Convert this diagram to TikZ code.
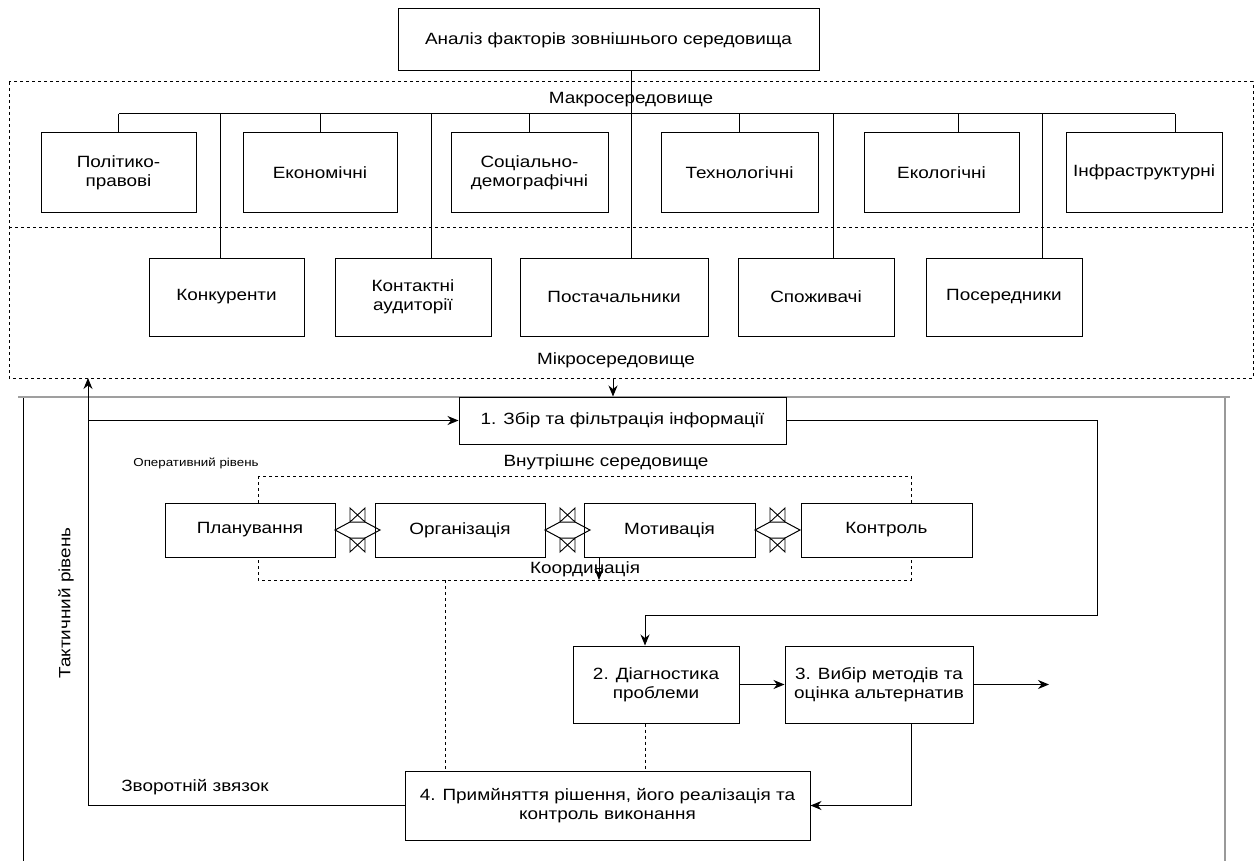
\documentclass[tikz,border=0pt]{standalone}
\usepackage{fontspec}
\setmainfont{Liberation Sans}[FakeStretch=1.16]
\usetikzlibrary{arrows.meta,calc}
\newcommand\myfs{\fontsize{16.3}{19}\selectfont}
\newcommand\mysm{\fontsize{11.5}{13}\selectfont}
\newcommand\bx[6]{\node[box,minimum width={(#4-#2)*1pt},minimum height={(#5-#3)*1pt}] (#1) at ({(#2+#4)/2},{(#3+#5)/2}) {#6};}
\tikzset{
  box/.style={draw, fill=white, line width=1pt, inner sep=0pt, align=center, font=\myfs},
  ln/.style={line width=1pt},
  dsh/.style={line width=1pt, dash pattern=on 3pt off 3pt},
  arr/.style={line width=1pt, -{Stealth[length=11pt,width=9pt]}},
  lbl/.style={inner sep=0pt, font=\myfs},
  bowtie/.style={line width=0.9pt}
}
% #1 = left x of the diamond (right edge of the left box)
\newcommand\diam[2]{%
  \draw[ln] (#1,530) -- ({#1+15},522) -- ({#1+30},522) -- ({#1+45},530) -- ({#1+30},538) -- ({#1+15},538) -- cycle;
  \draw[bowtie] ({#1+15},508) -- ({#1+30},522) -- ({#1+30},508) -- ({#1+15},522) -- cycle;
  \draw[bowtie] ({#1+15},538) -- ({#1+30},552) -- ({#1+30},538) -- ({#1+15},552) -- cycle;
}
\begin{document}
\begin{tikzpicture}[x=1pt,y=-1pt]
\useasboundingbox[fill=white] (0,0) rectangle (1257,861);

% external environment frame
\draw[dsh] (9,82) rectangle (1253,378);
\draw[dsh] (9,227) -- (1253,227);
\node[lbl] (macro) at (631,100) {Макросередовище};
\node[lbl] (micro) at (616,360) {Мікросередовище};

% coordinates for bus and lines
\coordinate (busL) at (118.5,114);
\coordinate (busR) at (1175,114);
\coordinate (vx) at (631,114);

% top box and boxes
\bx{top}{398}{9}{819}{71}{Аналіз факторів зовнішнього середовища}
\draw[ln] (busL) -- (busR);
\draw[ln] (top.south -| vx) -- (631,258);
\foreach \xx in {220,431,833,1042}{\draw[ln] (\xx,114) -- (\xx,258);}

\bx{p1}{41}{133}{196}{212}{Політико-\\правові}
\bx{p2}{243}{133}{397}{212}{Економічні}
\bx{p3}{451}{133}{608}{212}{Соціально-\\демографічні}
\bx{p4}{661}{133}{818}{212}{Технологічні}
\bx{p5}{864}{133}{1019}{212}{Екологічні}
\bx{p6}{1066}{133}{1222}{212}{Інфраструктурні}
\draw[ln] (busL) -- (p1.north);
\draw[ln] (p2.north |- busL) -- (p2.north);
\draw[ln] (p3.north |- busL) -- (p3.north);
\draw[ln] (p4.north |- busL) -- (p4.north);
\draw[ln] (958,114) -- (p5.north -| 958,0);
\draw[ln] (busR) -- (p6.north -| busR);

\bx{m1}{149}{258}{304}{336}{Конкуренти}
\bx{m2}{335}{258}{491}{336}{Контактні\\аудиторії}
\bx{m3}{520}{258}{708}{336}{Постачальники}
\bx{m4}{738}{258}{894}{336}{Споживачі}
\bx{m5}{926}{258}{1082}{336}{Посередники}

% tactical level frame
\draw[line width=2.5pt, gray!75] (18,397) -- (1230,397);
\draw[ln] (23,398) -- (23,861);
\draw[line width=2pt, gray!80] (1225,398) -- (1225,861);
\node[lbl, rotate=90] (tact) at (66,603) {Тактичний рівень};

\bx{b1}{459}{397}{786}{444}{1. Збір та фільтрація інформації}
\coordinate (mi) at (613,378);
\draw[arr] (mi) -- (b1.north -| mi);

% internal environment
\node[lbl] (vnutr) at (606,462) {Внутрішнє середовище};
\node[lbl, font=\mysm] (oper) at (196,463) {Оперативний рівень};
\draw[dsh] (258,476) rectangle (911,580);
\node[lbl] (koord) at (585,569) {Координація};

\bx{f1}{165}{503}{335}{557}{Планування}
\bx{f2}{375}{503}{545}{557}{Організація}
\bx{f3}{584}{503}{755}{557}{Мотивація}
\bx{f4}{801}{503}{972}{557}{Контроль}
\diam{335}{}
\diam{545}{}
\diam{755}{}
\coordinate (mk) at (599,580);
\draw[arr] (f3.south -| mk) -- (mk);

\bx{b2}{573}{646}{739}{723}{2. Діагностика\\проблеми}
\bx{b3}{785}{646}{973}{723}{3. Вибір методів та\\оцінка альтернатив}
\bx{b4}{405}{771}{810}{840}{4. Примйняття рішення, його реалізація та\\контроль виконання}

% connectors
\coordinate (fbx) at (88,378);
\coordinate (rx) at (1097,615);
\coordinate (dx) at (645,615);
\coordinate (ox) at (1049,684.5);
\coordinate (cx3) at (911,805.5);
\coordinate (dd) at (445,580);
\draw[ln] (b4.west) -- (fbx |- b4.west);
\draw[arr] (fbx |- b4.west) -- (fbx);
\draw[arr] (fbx |- b1.west) -- (b1.west);
\draw[arr] (b1.east) -| (rx) -- (dx) -- (b2.north -| dx);
\draw[arr] (b2.east) -- (b3.west);
\draw[arr] (b3.east) -- (ox);
\draw[arr] (b3.south -| cx3) -- (cx3) -- (b4.east);
\draw[dsh] (dd) -- (b4.north -| dd);
\draw[dsh] (b2.south -| dx) -- (b4.north -| dx);
\node[lbl] (zv) at (195,787) {Зворотній звязок};
\end{tikzpicture}
\end{document}
